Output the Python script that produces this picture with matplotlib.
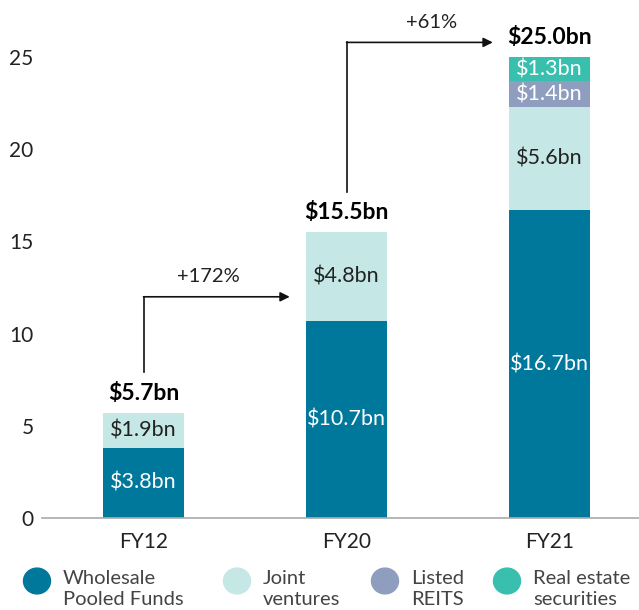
import matplotlib.pyplot as plt
import numpy as np

years = ["FY12", "FY20", "FY21"]
series = ["Wholesale\nPooled Funds", "Joint\nventures", "Listed\nREITS", "Real estate\nsecurities"]
wholesale = [3.8, 10.7, 16.7]
joint = [1.9, 4.8, 5.6]
listed = [0.0, 0.0, 1.4]
securities = [0.0, 0.0, 1.3]
totals = ["$5.7bn", "$15.5bn", "$25.0bn"]
growth = ["+172%", "+61%"]

colors = ["#00789c", "#c5e8e7", "#8f9ebf", "#38bfae"]
text_colors = ["white", "#222222", "white", "white"]
font = ["Lato", "DejaVu Sans"]

plt.rcParams["font.family"] = font

fig = plt.figure(figsize=(6.39, 6.10), dpi=100)
ax = fig.add_axes([0.0657, 0.1508, 0.9343, 0.8492])

x = np.arange(len(years))
w = 0.40
bottom = np.zeros(len(years))
for vals, c, tc in zip([wholesale, joint, listed, securities], colors, text_colors):
    vals = np.array(vals)
    ax.bar(x, vals, w, bottom=bottom, color=c, linewidth=0)
    for xi, b, v in zip(x, bottom, vals):
        if v > 0:
            ax.text(xi, b + v / 2, "$%.1fbn" % v, ha="center", va="center",
                    color=tc, fontsize=15.5)
    bottom = bottom + vals

for xi, top, lab in zip(x, bottom, totals):
    ax.text(xi, top + 1.05, lab, ha="center", va="center", fontsize=16.5,
            fontweight="bold", color="black")

# growth arrows
arrow_kw = dict(arrowstyle="-|>", color="#111111", lw=1.2, mutation_scale=14,
                shrinkA=0, shrinkB=0)
for i, lab in enumerate(growth):
    y0 = bottom[i] + 2.2
    y1 = bottom[i + 1] + 0.8 if i == 1 else 12.0
    ax.plot([x[i], x[i]], [y0, y1], color="#111111", lw=1.2)
    ax.annotate("", xy=(x[i] + 0.72, y1), xytext=(x[i], y1), arrowprops=arrow_kw)
    ax.text(x[i] + 0.36 + (0.06 if i == 1 else -0.04), y1 + 1.1, lab, ha="center",
            va="center", fontsize=14.5, color="#222222")

ax.set_xlim(-0.5, 2.44)
ax.set_ylim(0, 28.1)
ax.set_yticks([0, 5, 10, 15, 20, 25])
ax.set_xticks(x)
ax.set_xticklabels(years)
ax.tick_params(axis="both", length=0, labelsize=15, colors="#222222")
ax.tick_params(axis="y", pad=6)
ax.tick_params(axis="x", pad=10)
for s in ["top", "right", "left"]:
    ax.spines[s].set_visible(False)
ax.spines["bottom"].set_color("#aaaaaa")
ax.spines["bottom"].set_linewidth(1.2)

# legend
leg_x = [37, 237, 385, 507]
for lx, c, lab in zip(leg_x, colors, series):
    fig.add_artist(plt.Circle((lx / 639, 1 - 581 / 610), 13.5 / 639,
                              transform=fig.transFigure, color=c))
    fig.text((lx + 26) / 639, 1 - 589 / 610, lab, ha="left", va="center",
             fontsize=14.5, color="#444444", linespacing=1.35)

fig.savefig("out.png", dpi=100)
